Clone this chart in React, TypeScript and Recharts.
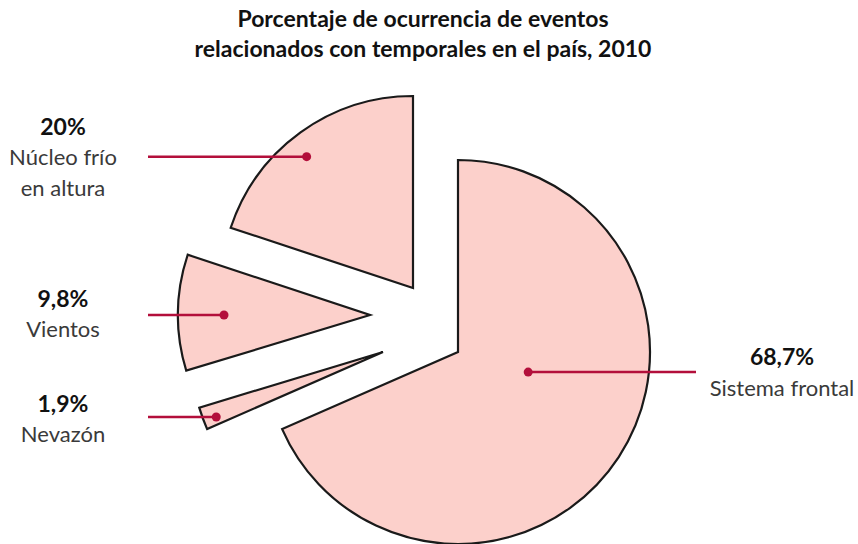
import { PieChart, Pie, Cell } from 'recharts';

const categories = ['Sistema frontal', 'Nevazón', 'Vientos', 'Núcleo frío en altura'];
const percentages = [68.7, 1.9, 9.8, 20];
const percentLabels = ['68,7%', '1,9%', '9,8%', '20%'];
const nameLines = [['Sistema frontal'], ['Nevazón'], ['Vientos'], ['Núcleo frío', 'en altura']];

const data = categories.map((name, i) => ({ name, value: percentages[i] }));

// each slice is pulled out to its own centre; callout dot is placed by angle (clockwise from 12 o'clock)
const sliceLayout = [
  { cx: 458, cy: 352, dotR: 73, dotAngle: 106, lineTo: 696, textX: 782, pctDy: -16, nameDy: 15 },
  { cx: 383, cy: 352, dotR: 179, dotAngle: 248.7, lineTo: 148, textX: 63, pctDy: -14, nameDy: 16 },
  { cx: 370, cy: 315, dotR: 146, dotAngle: 270, lineTo: 148, textX: 63, pctDy: -17, nameDy: 13 },
  { cx: 413, cy: 288, dotR: 169, dotAngle: 321, lineTo: 148, textX: 63, pctDy: -31, nameDy: 0 },
];

const FILL = '#fcd0cb';
const EDGE = '#1a1a1a';
const ACCENT = '#b30f3b';
const FONT = 'Lato, "Open Sans", sans-serif';

const makeLabel = (slice: number) => (props: any) => {
  if (props.index !== slice) return null;
  const lay = sliceLayout[slice];
  const cx = typeof props.cx === 'number' ? props.cx : lay.cx;
  const cy = typeof props.cy === 'number' ? props.cy : lay.cy;
  const rad = (lay.dotAngle * Math.PI) / 180;
  const dx = cx + lay.dotR * Math.sin(rad);
  const dy = cy - lay.dotR * Math.cos(rad);
  const lines = nameLines[slice];
  return (
    <g>
      <line x1={dx} y1={dy} x2={lay.lineTo} y2={dy} stroke={ACCENT} strokeWidth={2.5} />
      <circle cx={dx} cy={dy} r={4.5} fill={ACCENT} />
      <text
        x={lay.textX}
        y={dy + lay.pctDy}
        textAnchor="middle"
        dominantBaseline="central"
        fontFamily={FONT}
        fontWeight={700}
        fontSize={23}
        fill="#111"
      >
        {percentLabels[slice]}
      </text>
      {lines.map((ln, k) => (
        <text
          key={k}
          x={lay.textX}
          y={dy + lay.nameDy + k * 31}
          textAnchor="middle"
          dominantBaseline="central"
          fontFamily={FONT}
          fontSize={22}
          fill="#3a3a3a"
        >
          {ln}
        </text>
      ))}
    </g>
  );
};

export default function App() {
  return (
    <div style={{ position: 'absolute', left: 0, top: 0, width: 858, height: 544, background: '#fff' }}>
      <div
        style={{
          position: 'absolute',
          left: 0,
          top: 3,
          width: 846,
          textAlign: 'center',
          fontFamily: FONT,
          fontWeight: 700,
          fontSize: 23,
          lineHeight: '30px',
          color: '#111',
        }}
      >
        <div>Porcentaje de ocurrencia de eventos</div>
        <div>relacionados con temporales en el país, 2010</div>
      </div>
      <div style={{ position: 'absolute', left: 0, top: 0 }}>
        <PieChart width={858} height={544} margin={{ top: 0, right: 0, bottom: 0, left: 0 }}>
          {sliceLayout.map((lay, s) => (
            <Pie
              key={s}
              data={data}
              dataKey="value"
              nameKey="name"
              cx={lay.cx}
              cy={lay.cy}
              outerRadius={192}
              startAngle={90}
              endAngle={-270}
              isAnimationActive={false}
              labelLine={false}
              label={makeLabel(s)}
            >
              {data.map((d, i) => (
                <Cell
                  key={d.name}
                  fill={i === s ? FILL : 'transparent'}
                  stroke={i === s ? EDGE : 'none'}
                  strokeWidth={2.2}
                  strokeLinejoin="miter"
                />
              ))}
            </Pie>
          ))}
        </PieChart>
      </div>
    </div>
  );
}
